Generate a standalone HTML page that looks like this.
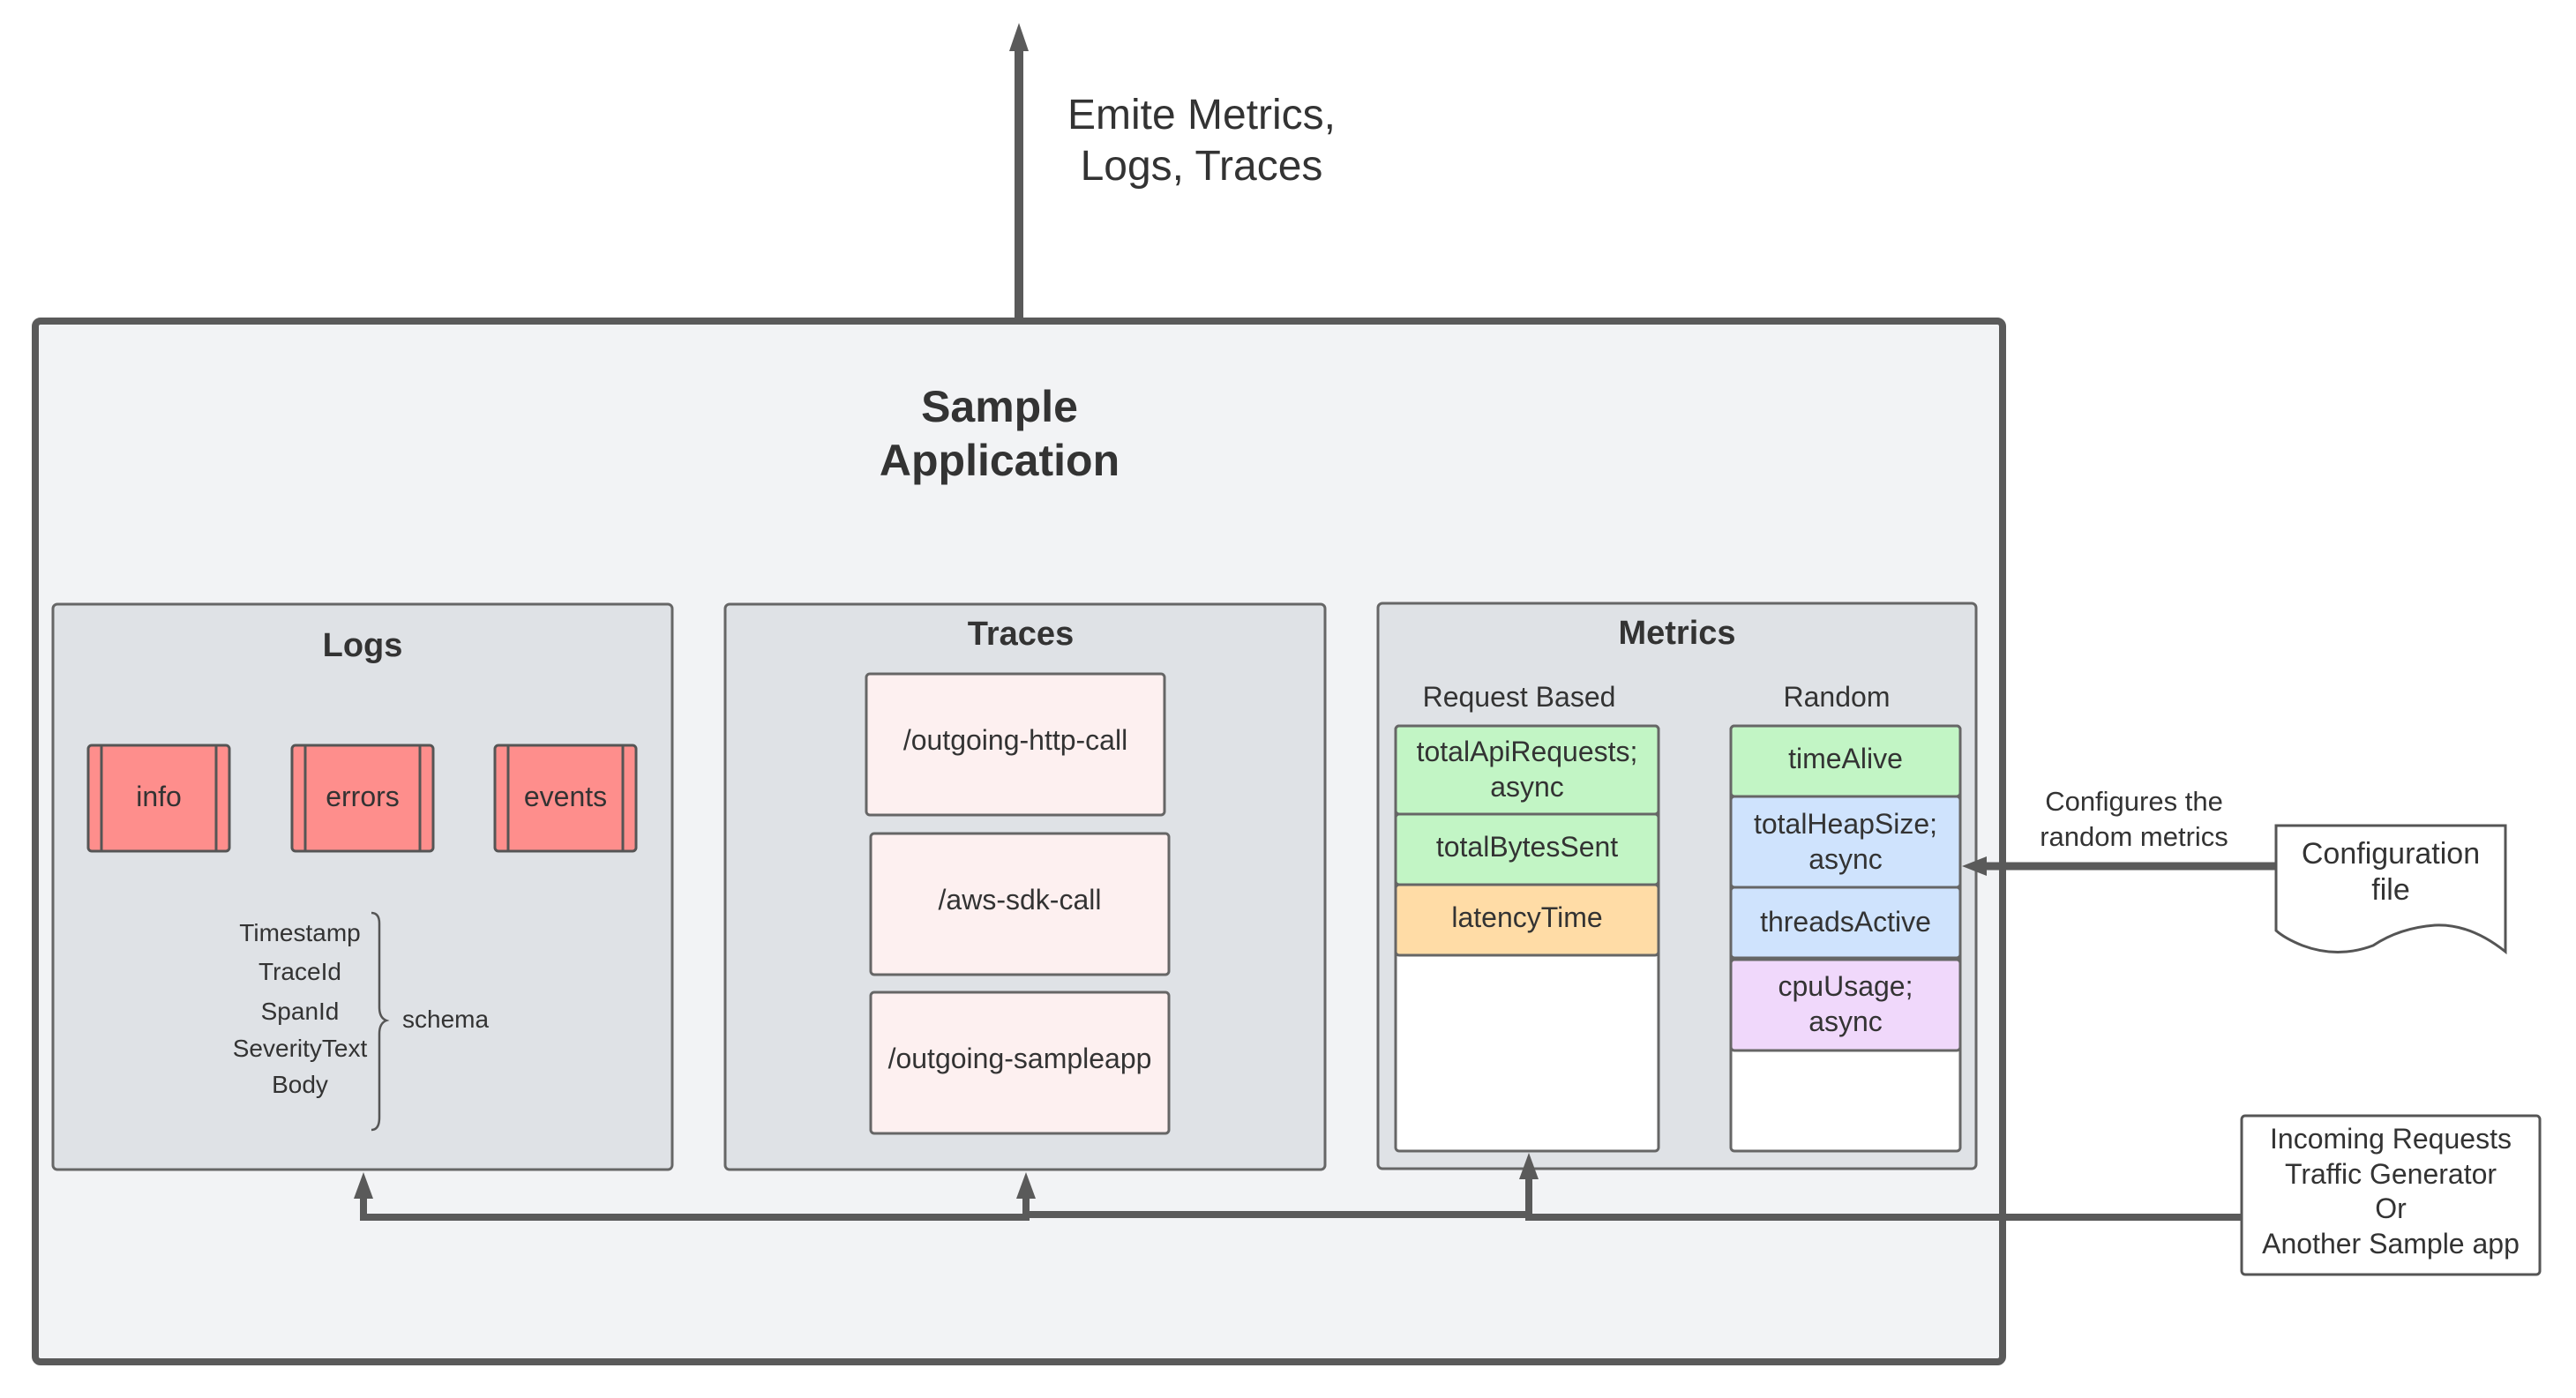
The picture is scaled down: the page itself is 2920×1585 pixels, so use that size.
<!DOCTYPE html>
<html><head><meta charset="utf-8"><style>
html,body{margin:0;padding:0;background:#fff}
svg{display:block}
text{font-family:"Liberation Sans",Arial,sans-serif;fill:#333}
</style></head><body>
<svg width="2920" height="1585" viewBox="0 0 2920 1585" xmlns="http://www.w3.org/2000/svg">
<line x1="1155" y1="366" x2="1155" y2="55" stroke="#5a5a5a" stroke-width="10"/>
<polygon points="1155,26 1144,58 1166,58" fill="#5a5a5a"/>
<text x="1362" y="146" font-size="48" text-anchor="middle">Emite Metrics,</text>
<text x="1362" y="204" font-size="48" text-anchor="middle">Logs, Traces</text>
<g transform="translate(0,-3)">
<rect x="40" y="367" width="2230" height="1180" rx="6" fill="#f2f3f5" stroke="#5a5a5a" stroke-width="8"/>
<text x="1133" y="481" font-size="50" font-weight="bold" text-anchor="middle">Sample</text>
<text x="1133" y="542" font-size="50" font-weight="bold" text-anchor="middle">Application</text>

<rect x="60" y="688" width="702" height="641" rx="5" fill="#dfe2e6" stroke="#666" stroke-width="3"/>
<text x="411" y="747" font-size="38" font-weight="bold" text-anchor="middle">Logs</text>
<g stroke="#555" stroke-width="3" fill="#fe8e8c">
<rect x="100" y="848" width="160" height="120" rx="4"/>
<rect x="331" y="848" width="160" height="120" rx="4"/>
<rect x="561" y="848" width="160" height="120" rx="4"/>
<line x1="115" y1="848" x2="115" y2="968"/><line x1="245" y1="848" x2="245" y2="968"/>
<line x1="346" y1="848" x2="346" y2="968"/><line x1="476" y1="848" x2="476" y2="968"/>
<line x1="576" y1="848" x2="576" y2="968"/><line x1="706" y1="848" x2="706" y2="968"/>
</g>
<text x="180" y="917" font-size="32" text-anchor="middle">info</text>
<text x="411" y="917" font-size="32" text-anchor="middle">errors</text>
<text x="641" y="917" font-size="32" text-anchor="middle">events</text>
<g font-size="28" text-anchor="middle">
<text x="340" y="1070">Timestamp</text>
<text x="340" y="1114">TraceId</text>
<text x="340" y="1159">SpanId</text>
<text x="340" y="1201">SeverityText</text>
<text x="340" y="1242">Body</text>
</g>
<path d="M421,1038 Q430,1038 430,1050 L430,1145 Q430,1157 438,1160 Q430,1163 430,1175 L430,1270 Q430,1284 421,1284" fill="none" stroke="#555" stroke-width="2.5"/>
<text x="456" y="1168" font-size="28">schema</text>

<rect x="822" y="688" width="680" height="641" rx="5" fill="#dfe2e6" stroke="#666" stroke-width="3"/>
<text x="1157" y="734" font-size="38" font-weight="bold" text-anchor="middle">Traces</text>
<g fill="#fdf0f0" stroke="#666" stroke-width="3">
<rect x="982" y="767" width="338" height="160" rx="4"/>
<rect x="987" y="948" width="338" height="160" rx="4"/>
<rect x="987" y="1128" width="338" height="160" rx="4"/>
</g>
<g font-size="32" text-anchor="middle">
<text x="1151" y="853">/outgoing-http-call</text>
<text x="1156" y="1034">/aws-sdk-call</text>
<text x="1156" y="1214">/outgoing-sampleapp</text>
</g>

<rect x="1562" y="687" width="678" height="641" rx="5" fill="#dfe2e6" stroke="#666" stroke-width="3"/>
<text x="1901" y="733" font-size="38" font-weight="bold" text-anchor="middle">Metrics</text>
<text x="1722" y="804" font-size="32" text-anchor="middle">Request Based</text>
<text x="2082" y="804" font-size="32" text-anchor="middle">Random</text>
<g stroke="#666" stroke-width="3">
<rect x="1582" y="826" width="298" height="482" rx="4" fill="#fff"/>
<rect x="1582" y="826" width="298" height="100" rx="4" fill="#c2f5c5"/>
<rect x="1582" y="926" width="298" height="80" rx="4" fill="#c2f5c5"/>
<rect x="1582" y="1006" width="298" height="80" rx="4" fill="#ffdca6"/>
<rect x="1962" y="826" width="260" height="482" rx="4" fill="#fff"/>
<rect x="1962" y="826" width="260" height="80" rx="4" fill="#c2f5c5"/>
<rect x="1962" y="906" width="260" height="103" rx="4" fill="#cfe3fd"/>
<rect x="1962" y="1009" width="260" height="80" rx="4" fill="#cfe3fd"/>
<rect x="1962" y="1091" width="260" height="103" rx="4" fill="#f0d8fb"/>
</g>
<g font-size="32" text-anchor="middle">
<text x="1731" y="866">totalApiRequests;</text>
<text x="1731" y="906">async</text>
<text x="1731" y="974">totalBytesSent</text>
<text x="1731" y="1054">latencyTime</text>
<text x="2092" y="874">timeAlive</text>
<text x="2092" y="948">totalHeapSize;</text>
<text x="2092" y="988">async</text>
<text x="2092" y="1059">threadsActive</text>
<text x="2092" y="1132">cpuUsage;</text>
<text x="2092" y="1172">async</text>
</g>

<line x1="2580" y1="985" x2="2250" y2="985" stroke="#5a5a5a" stroke-width="9"/>
<polygon points="2224,985 2252,974 2252,996" fill="#5a5a5a"/>
<text x="2419" y="922" font-size="31" text-anchor="middle">Configures the</text>
<text x="2419" y="962" font-size="31" text-anchor="middle">random metrics</text>
<path d="M2580,939 L2840,939 L2840,1082 Q2800,1050 2760,1052 Q2720,1055 2690,1075 Q2650,1090 2610,1075 Q2590,1067 2580,1058 Z" fill="#fff" stroke="#555" stroke-width="3"/>
<text x="2710" y="982" font-size="34" text-anchor="middle">Configuration</text>
<text x="2710" y="1023" font-size="34" text-anchor="middle">file</text>
</g>
<rect x="2541" y="1265" width="338" height="180" rx="4" fill="#fff" stroke="#555" stroke-width="3"/>
<g font-size="32" text-anchor="middle">
<text x="2710" y="1302">Incoming Requests</text>
<text x="2710" y="1342">Traffic Generator</text>
<text x="2710" y="1381">Or</text>
<text x="2710" y="1421">Another Sample app</text>
</g>
<g transform="translate(0,-3)">
<polyline points="2541,1383 1733,1383 1733,1380 1163,1380 1163,1383 412,1383 412,1360" fill="none" stroke="#5a5a5a" stroke-width="8"/>
<line x1="1163" y1="1383" x2="1163" y2="1355" stroke="#5a5a5a" stroke-width="8"/>
<line x1="1733" y1="1383" x2="1733" y2="1335" stroke="#5a5a5a" stroke-width="8"/>
<polygon points="412,1332 401,1362 423,1362" fill="#5a5a5a"/>
<polygon points="1163,1332 1152,1362 1174,1362" fill="#5a5a5a"/>
<polygon points="1733,1310 1722,1340 1744,1340" fill="#5a5a5a"/>
</g>
</svg>
</body></html>
